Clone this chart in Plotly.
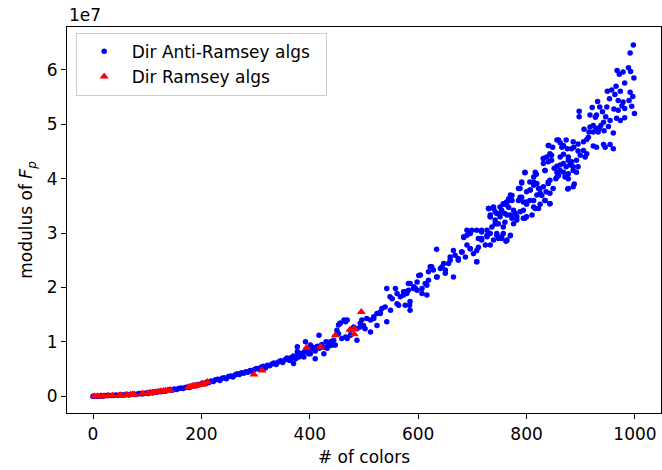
import plotly.graph_objects as go

# ---- Data (x = # of colors, y = modulus of F_p in units of 1e7) ----
anti_x = [
    0, 3, 6, 9, 12, 15, 18, 22, 26, 30, 34, 38, 42, 46, 50, 54, 58, 62, 66, 70, 74, 78, 82, 86, 90, 94, 98,
    102, 106, 110, 114, 118, 122, 126, 130, 134, 138, 142, 146, 150, 154, 158, 162, 166, 170, 174, 178,
    182, 186, 190, 194, 198, 202, 206, 210, 214, 218, 222, 226, 230, 234, 238, 242, 246, 250, 254, 258,
    262, 266, 270, 274, 278, 282, 286, 290, 294, 298, 302, 306, 310, 314, 318, 322, 326, 330, 334, 338,
    342, 346, 350, 354, 358, 362, 366, 370, 374, 378, 382, 386, 390, 394, 398, 402, 406, 410, 414, 418,
    422, 426, 430, 434, 438,
    364, 377, 389, 392, 401, 417, 426, 444, 450, 456, 466, 469, 493, 512, 518, 530, 542, 549, 561, 567,
    576, 582, 595, 585, 524, 496, 487, 438, 401, 380, 370, 410, 432, 475, 502, 453, 463, 377,
    770, 762, 754, 745, 739, 733, 727, 717, 711, 708, 702, 696, 690, 684, 687, 680, 674, 668, 659, 656,
    650, 644, 634, 634, 628, 622, 619, 613, 616, 607, 601, 598, 591, 585, 584, 579, 573, 564, 561, 558,
    552, 548, 542, 539, 533, 530, 524, 518, 512, 505, 499, 493, 487, 481, 475, 469, 466, 459, 456, 453,
    447, 444, 438,
    767, 764, 751, 742, 730, 733, 745, 757, 764, 748, 733, 717, 699, 690, 711, 724, 708, 696, 681, 665,
    674, 708, 659, 647, 641, 625, 619, 635, 650, 665, 604, 598, 592, 582, 573, 616, 607, 585, 576,
    859, 840, 868, 883, 843, 831, 846, 877, 862, 886, 856, 834, 816, 797, 791, 813, 840, 856, 877, 877,
    886, 807, 822, 828, 843, 834, 813, 785, 788, 800, 773, 767, 757, 739, 730, 776, 794, 816, 751, 764,
    782, 733, 742, 760, 776, 797,
    997, 991, 988, 967, 978, 992, 971, 998, 981, 965, 949, 957, 973, 991, 996, 989, 963, 953, 969, 978,
    994, 976, 948, 961, 969, 981, 999, 981, 973, 966, 931, 921, 935, 940, 929, 917, 927, 897, 897, 946,
    954, 942, 937, 923, 917, 928, 934, 951, 943, 932, 923, 915, 906, 960, 911, 914, 905, 895, 886, 873,
    862, 856, 865, 841, 848, 875, 887, 895, 905, 911, 923, 929, 942, 945, 954, 960, 908, 899, 892, 883,
    877, 868, 862, 880, 873, 868, 856, 862, 851, 868, 886, 895, 892, 877, 871, 859, 854, 846, 837, 831,
    840, 831, 834, 818, 813, 797, 806, 813, 819, 825, 831, 840, 843, 849, 843, 836, 825, 819, 806, 791,
    788, 800, 791, 785, 794, 800, 806, 813, 822, 825, 834, 843, 770, 773, 763, 757, 767, 754, 745, 751,
    760, 770, 779, 788, 782, 773, 794, 800, 810, 730, 739, 733, 742, 748, 736, 727, 717, 708, 696, 690,
    684, 770, 757, 745, 754, 727, 717, 876, 888,
]
anti_y_e7 = [
    0.00, 0.00, 0.00, 0.00, 0.00, 0.01, 0.00, 0.01, 0.01, 0.01, 0.01, 0.01, 0.02, 0.01, 0.02, 0.02, 0.02,
    0.03, 0.02, 0.03, 0.04, 0.03, 0.04, 0.05, 0.04, 0.05, 0.06,
    0.05, 0.07, 0.06, 0.08, 0.07, 0.09, 0.08, 0.10, 0.09, 0.11, 0.12, 0.11, 0.13, 0.12, 0.14, 0.15, 0.14,
    0.16, 0.17, 0.16, 0.18, 0.20, 0.19, 0.21, 0.22, 0.24, 0.23, 0.26, 0.25, 0.28, 0.27, 0.30, 0.31, 0.29,
    0.33, 0.34, 0.32, 0.36, 0.37, 0.35, 0.39, 0.41, 0.40, 0.43, 0.42, 0.45, 0.44, 0.47, 0.46, 0.49, 0.51,
    0.50, 0.53, 0.55, 0.52, 0.57, 0.56, 0.59, 0.61, 0.58, 0.63, 0.65, 0.62, 0.67, 0.70, 0.66, 0.71, 0.74,
    0.69, 0.76, 0.79, 0.74, 0.81, 0.84, 0.78, 0.86, 0.90, 0.83, 0.92, 0.88, 0.95, 0.90, 1.00, 0.96, 0.93,
    0.66, 0.82, 0.72, 1.00, 0.78, 1.12, 0.78, 0.94, 1.21, 1.34, 1.37, 1.06, 1.27, 1.18, 1.46, 1.55, 1.37,
    1.58, 1.70, 1.83, 1.92, 2.07, 1.98, 1.58, 1.30, 1.40, 1.03, 1.00, 0.94, 0.72, 0.60, 0.69, 0.88, 1.12,
    1.24, 1.31, 1.40, 0.91,
    2.95, 2.85, 2.93, 2.96, 2.87, 2.78, 2.93, 2.87, 2.74, 2.47, 2.62, 2.71, 2.78, 2.93, 2.56, 2.65, 2.50,
    2.59, 2.56, 2.44, 2.32, 2.38, 2.70, 2.19, 2.32, 2.38, 2.13, 2.07, 1.86, 1.98, 2.22, 1.95, 1.98, 2.07,
    1.67, 1.89, 1.92, 1.67, 1.89, 1.98, 1.79, 1.83, 1.98, 1.64, 1.61, 1.52, 1.52, 1.43, 1.40, 1.43, 1.30,
    1.34, 1.24, 1.27, 1.21, 1.40, 1.09, 1.06, 1.34, 1.15, 0.94, 1.03, 0.97,
    3.63, 3.51, 3.48, 3.39, 3.45, 3.30, 3.17, 3.11, 2.87, 2.90, 2.99, 3.02, 3.05, 2.96, 2.90, 2.78, 2.68,
    2.71, 2.65, 2.68, 2.53, 2.47, 2.50, 2.44, 2.35, 2.38, 2.29, 2.19, 2.26, 2.19, 2.23, 2.10, 2.01, 1.95,
    1.86, 2.04, 1.89, 1.74, 1.67,
    4.71, 4.61, 4.61, 4.55, 4.46, 4.37, 4.34, 4.34, 4.25, 4.22, 4.12, 4.15, 4.12, 4.12, 3.94, 3.94, 3.94,
    4.03, 4.00, 3.82, 3.85, 3.79, 3.82, 3.69, 3.54, 3.60, 3.60, 3.82, 3.66, 3.57, 3.69, 3.60, 3.54, 3.48,
    3.45, 3.42, 3.42, 3.45, 3.36, 3.33, 3.30, 3.30, 3.17, 3.20, 3.17, 3.27,
    6.46, 6.31, 6.04, 5.99, 5.96, 5.97, 5.92, 5.85, 5.76, 5.70, 5.61, 5.63, 5.61, 5.59, 5.51, 5.44, 5.55,
    5.47, 5.44, 5.41, 5.33, 5.34, 5.32, 5.28, 5.26, 5.29, 5.20, 5.12, 5.07, 5.11, 5.42, 5.31, 5.32, 5.23,
    5.17, 5.17, 5.13, 5.24, 5.14, 5.14, 5.07, 5.04, 4.98, 4.98, 4.95, 4.93, 4.92, 4.96, 4.88, 4.86, 4.86,
    4.86, 4.91, 4.84, 4.72, 4.76, 4.68, 4.64, 4.68, 4.71, 4.66, 4.71, 4.58, 4.61, 4.58, 4.55, 4.58, 4.51,
    4.52, 4.46, 4.60, 4.58, 4.63, 4.58, 4.63, 4.55, 4.40, 4.43, 4.34, 4.31, 4.40, 4.45, 4.40, 4.25, 4.22,
    4.28, 4.23, 4.15, 4.19, 4.12, 4.15, 4.22, 4.12, 4.09, 4.03, 4.06, 4.00, 4.43, 4.40, 4.37, 4.31, 4.28,
    4.15, 4.08, 4.03, 4.11, 3.94, 3.88, 3.91, 3.82, 3.85, 3.91, 3.97, 3.82, 3.73, 3.76, 3.73, 3.70, 3.79,
    3.92, 3.82, 3.76, 3.66, 3.60, 3.57, 3.53, 3.60, 3.48, 3.45, 3.53, 3.60, 3.54, 3.70, 3.60, 3.57, 3.53,
    3.47, 3.42, 3.36, 3.30, 3.36, 3.33, 3.36, 3.39, 3.24, 3.27, 3.27, 3.30, 3.33, 3.45, 3.45, 3.33, 3.24,
    3.17, 3.11, 3.05, 3.05, 3.05, 2.99, 3.05, 2.92, 2.96, 2.99, 2.99, 2.90, 2.96, 2.90, 3.81, 3.90,
]

ramsey_x = [
    2, 8, 14, 20, 28, 36, 48, 51, 60, 63, 69, 73, 76, 91, 100, 106, 110, 116, 120, 125, 130, 134, 138,
    143, 177, 180, 183, 186, 189, 192, 198, 202, 205, 211, 297, 312, 394, 420, 447, 474, 482, 482, 495,
]
ramsey_y_e7 = [
    0.00, 0.00, 0.00, 0.00, 0.01, 0.01, 0.01, 0.015, 0.02, 0.02, 0.025, 0.03, 0.03, 0.05, 0.055, 0.06,
    0.065, 0.07, 0.08, 0.09, 0.095, 0.10, 0.105, 0.11, 0.17, 0.17, 0.18, 0.18, 0.19, 0.20, 0.21, 0.22,
    0.22, 0.26, 0.40, 0.47, 0.89, 0.91, 1.12, 1.22, 1.24, 1.14, 1.55,
]

x_ticks = [0, 200, 400, 600, 800, 1000]
y_ticks_e7 = [0, 1, 2, 3, 4, 5, 6]
SCALE = 1e7

FONT = "DejaVu Sans"
FS = 17

fig = go.Figure()
fig.add_trace(go.Scatter(
    x=anti_x, y=[v * SCALE for v in anti_y_e7], mode="markers",
    name="Dir Anti-Ramsey algs\u00a0\u00a0", legendgroup="a",
    marker=dict(color="#0000ff", size=5.5, symbol="circle", line=dict(width=0)),
))
fig.add_trace(go.Scatter(
    x=ramsey_x, y=[v * SCALE for v in ramsey_y_e7], mode="markers",
    name="Dir Ramsey algs", legendgroup="b",
    marker=dict(color="#ff0000", size=8, symbol="triangle-up", line=dict(width=0)),
))

axis_common = dict(
    showgrid=False, zeroline=False, showline=True, linecolor="black", linewidth=1.2,
    mirror=True, ticks="outside", ticklen=5, tickwidth=1.1, tickcolor="black",
    tickfont=dict(family=FONT, size=FS, color="black"), automargin=False,
)

fig.update_layout(
    width=662, height=470,
    margin=dict(l=67, r=1, t=27, b=57),
    paper_bgcolor="white", plot_bgcolor="white",
    font=dict(family=FONT, size=FS, color="black"),
    xaxis=dict(
        range=[-48, 1048], tickvals=x_ticks,
        title=dict(text="# of colors", font=dict(family=FONT, size=FS), standoff=8),
        **axis_common,
    ),
    yaxis=dict(
        range=[-0.31 * SCALE, 6.79 * SCALE],
        tickvals=[v * SCALE for v in y_ticks_e7], ticktext=[str(v) for v in y_ticks_e7],
        title=dict(text="modulus of <i>F<sub>p</sub></i>", font=dict(family=FONT, size=FS), standoff=9),
        **axis_common,
    ),
    legend=dict(
        x=0.0146, y=0.985, xanchor="left", yanchor="top",
        bgcolor="rgba(255,255,255,0.8)", bordercolor="#cccccc", borderwidth=1,
        font=dict(family=FONT, size=FS, color="black"),
        itemsizing="trace", itemwidth=45, traceorder="grouped", tracegroupgap=0,
    ),
    showlegend=True,
)

fig.add_annotation(
    text="1e7", xref="paper", yref="paper", x=0, y=1, xanchor="left", yanchor="bottom",
    showarrow=False, font=dict(family=FONT, size=FS, color="black"), yshift=0,
)

fig.write_html(
    "out.html",
    config={"displayModeBar": False},
    post_script="document.body.style.margin='0px';document.body.style.overflow='hidden';",
)
